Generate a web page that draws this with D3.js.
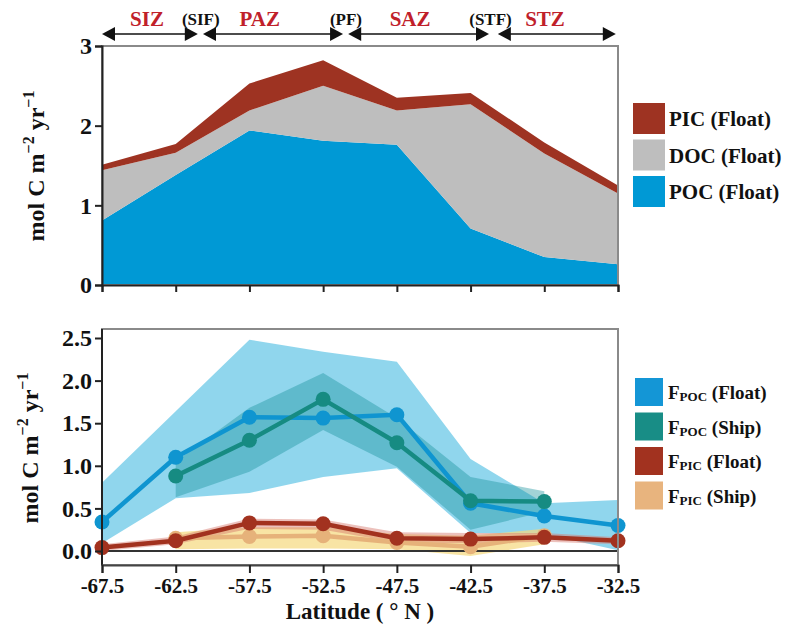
<!DOCTYPE html>
<html>
<head>
<meta charset="utf-8">
<script src="https://cdn.jsdelivr.net/npm/d3@7"></script>
<style>
  body { margin: 0; background: #fff; }
  text { font-family: "Liberation Serif", "Times New Roman", serif; font-weight: bold; }
</style>
</head>
<body>
<div id="chart"></div>
<script>
//1. Data
const lats = [-67.5, -62.5, -57.5, -52.5, -47.5, -42.5, -37.5, -32.5];
const shipLats = [-62.5, -57.5, -52.5, -47.5, -42.5, -37.5];

// top panel (stacked, float based)
const pocStock = [0.81, 1.38, 1.94, 1.81, 1.76, 0.71, 0.35, 0.26];
const docStock = [0.63, 0.28, 0.25, 0.69, 0.43, 1.56, 1.30, 0.89];
const picStock = [0.07, 0.11, 0.34, 0.32, 0.16, 0.14, 0.14, 0.10];

// bottom panel (fluxes with ranges)
const pocFloat   = [0.34, 1.10, 1.57, 1.56, 1.60, 0.56, 0.41, 0.30];
const pocFloatHi = [0.80, 1.64, 2.48, 2.34, 2.22, 1.08, 0.56, 0.60];
const pocFloatLo = [0.09, 0.62, 0.68, 0.87, 0.97, 0.21, 0.20, 0.01];

const pocShip   = [0.88, 1.30, 1.78, 1.27, 0.59, 0.58];
const pocShipHi = [1.05, 1.68, 2.09, 1.56, 0.87, 0.70];
const pocShipLo = [0.63, 0.93, 1.42, 0.99, 0.25, 0.46];

const picFloat   = [0.04, 0.12, 0.33, 0.32, 0.15, 0.14, 0.16, 0.12];
const picFloatHi = [0.08, 0.17, 0.38, 0.37, 0.22, 0.21, 0.21, 0.16];
const picFloatLo = [0.00, 0.08, 0.26, 0.25, 0.10, 0.09, 0.11, 0.08];

const picShip   = [0.15, 0.17, 0.18, 0.10, 0.05, 0.18];
const picShipHi = [0.22, 0.28, 0.28, 0.20, 0.18, 0.26];
const picShipLo = [0.02, 0.03, 0.03, 0.02, -0.06, 0.08];

// zones / fronts along the top
const zoneNames = ["SIZ", "PAZ", "SAZ", "STZ"];
const zoneStart = [-67.5, -60.65, -50.8, -40.65];
const zoneEnd   = [-61.0, -51.15, -41.25, -32.65];
const zoneMid   = [-64.45, -56.8, -46.6, -37.45];
const frontNames = ["(SIF)", "(PF)", "(STF)"];
const frontLat   = [-60.8, -50.95, -41.15];

const topTicks = [0, 1, 2, 3];
const botTicks = [0, 0.5, 1.0, 1.5, 2.0, 2.5];

const topKeys = ["POC (Float)", "DOC (Float)", "PIC (Float)"];
const topColors = ["#0099d5", "#bebebe", "#9e3322"];

//2. SVG and scales
const width = 794, height = 630;
const svg = d3.select("#chart").append("svg")
  .attr("width", width).attr("height", height);

const x = d3.scaleLinear().domain([-67.5, -32.5]).range([102, 618]);
const yTop = d3.scaleLinear().domain([0, 3]).range([285, 46]);
const yBot = d3.scaleLinear().domain([0, 2.5]).range([551, 338]);
const topPanel = { top: 46, bottom: 285 };
const botPanel = { top: 329, bottom: 565 };

//3. Top stacked area
const rows = lats.map((lat, i) => ({ lat, poc: pocStock[i], doc: docStock[i], pic: picStock[i] }));
const stacked = d3.stack().keys(["poc", "doc", "pic"])(rows);
const stackArea = d3.area()
  .x(d => x(d.data.lat))
  .y0(d => yTop(d[0]))
  .y1(d => yTop(d[1]));

svg.selectAll(".stack")
  .data(stacked)
  .enter().append("path")
    .attr("class", "stack")
    .attr("d", stackArea)
    .attr("fill", (d, i) => topColors[i]);

svg.append("rect")
  .attr("x", x(-67.5)).attr("y", topPanel.top)
  .attr("width", x(-32.5) - x(-67.5)).attr("height", topPanel.bottom - topPanel.top)
  .attr("fill", "none").attr("stroke", "#8a8a8a").attr("stroke-width", 2);

const topY = svg.append("g")
  .attr("transform", `translate(${x(-67.5)},0)`)
  .call(d3.axisLeft(yTop).tickValues(topTicks).tickFormat(d3.format("d")).tickSize(7).tickPadding(3));
topY.select(".domain").attr("stroke", "#222").attr("stroke-width", 2);
topY.selectAll("line").attr("stroke", "#222").attr("stroke-width", 2);
topY.selectAll("text").attr("font-size", 24).attr("fill", "#111");

const topX = svg.append("g")
  .attr("transform", `translate(0,${topPanel.bottom})`)
  .call(d3.axisBottom(x).tickValues(lats).tickFormat("").tickSize(7));
topX.select(".domain").attr("stroke", "#222").attr("stroke-width", 2);
topX.selectAll("line").attr("stroke", "#222").attr("stroke-width", 2);

//4. Zone arrows on top
const arrowY = 34;
const head = (xTip, dir) => `M${xTip},${arrowY} L${xTip - dir * 13},${arrowY - 7} L${xTip - dir * 13},${arrowY + 7} Z`;
zoneNames.forEach((name, i) => {
  const x0 = x(zoneStart[i]), x1 = x(zoneEnd[i]);
  svg.append("line")
    .attr("x1", x0 + 6).attr("x2", x1 - 6)
    .attr("y1", arrowY).attr("y2", arrowY)
    .attr("stroke", "#111").attr("stroke-width", 1.6);
  svg.append("path").attr("d", head(x0, -1)).attr("fill", "#111");
  svg.append("path").attr("d", head(x1, 1)).attr("fill", "#111");
  svg.append("text")
    .attr("x", x(zoneMid[i])).attr("y", 26)
    .attr("text-anchor", "middle")
    .attr("font-size", 21)
    .attr("fill", "#c0202a")
    .text(name);
});
frontNames.forEach((name, i) => {
  svg.append("text")
    .attr("x", x(frontLat[i])).attr("y", 25)
    .attr("text-anchor", "middle")
    .attr("font-size", 17)
    .attr("fill", "#111")
    .text(name);
});

//5. Bottom panel bands
const band = (lo, hi, xs) => d3.area()
  .x((d, i) => x(xs[i]))
  .y0((d, i) => yBot(lo[i]))
  .y1((d, i) => yBot(hi[i]));

svg.append("path").attr("d", band(pocFloatLo, pocFloatHi, lats)(lats))
  .attr("fill", "#5cc3e4").attr("opacity", 0.68);
svg.append("path").attr("d", band(pocShipLo, pocShipHi, shipLats)(shipLats))
  .attr("fill", "#17919a").attr("opacity", 0.4);
svg.append("path").attr("d", band(picShipLo, picShipHi, shipLats)(shipLats))
  .attr("fill", "#f5d97e").attr("opacity", 0.7);
svg.append("path").attr("d", band(picFloatLo, picFloatHi, lats)(lats))
  .attr("fill", "#d4756a").attr("opacity", 0.45);

// zero line
svg.append("line")
  .attr("x1", x(-67.5)).attr("x2", x(-32.5))
  .attr("y1", yBot(0)).attr("y2", yBot(0))
  .attr("stroke", "#333").attr("stroke-width", 2);

//6. Lines and points
const series = [
  { xs: shipLats, ys: picShip,  color: "#e6b27a" },
  { xs: lats,     ys: picFloat, color: "#a2321f" },
  { xs: lats,     ys: pocFloat, color: "#0f95d0" },
  { xs: shipLats, ys: pocShip,  color: "#168b82" }
];
const lineGen = d3.line().x(d => x(d[0])).y(d => yBot(d[1]));
series.forEach(s => {
  const pts = s.xs.map((lat, i) => [lat, s.ys[i]]);
  svg.append("path")
    .datum(pts)
    .attr("d", lineGen)
    .attr("fill", "none")
    .attr("stroke", s.color)
    .attr("stroke-width", 4.5)
    .attr("stroke-linejoin", "round");
  svg.selectAll(null)
    .data(pts)
    .enter().append("circle")
      .attr("cx", d => x(d[0]))
      .attr("cy", d => yBot(d[1]))
      .attr("r", 7.5)
      .attr("fill", s.color);
});

//7. Bottom panel frame and axes
svg.append("rect")
  .attr("x", x(-67.5)).attr("y", botPanel.top)
  .attr("width", x(-32.5) - x(-67.5)).attr("height", botPanel.bottom - botPanel.top)
  .attr("fill", "none").attr("stroke", "#8a8a8a").attr("stroke-width", 2);

const botY = svg.append("g")
  .attr("transform", `translate(${x(-67.5)},0)`)
  .call(d3.axisLeft(yBot).tickValues(botTicks).tickFormat(d3.format(".1f")).tickSize(7).tickPadding(3));
botY.select(".domain").remove();
botY.selectAll("line").attr("stroke", "#222").attr("stroke-width", 2);
botY.selectAll("text").attr("font-size", 24).attr("fill", "#111");
svg.append("line")
  .attr("x1", x(-67.5)).attr("x2", x(-67.5))
  .attr("y1", botPanel.top).attr("y2", botPanel.bottom)
  .attr("stroke", "#222").attr("stroke-width", 2);

const botX = svg.append("g")
  .attr("transform", `translate(0,${botPanel.bottom})`)
  .call(d3.axisBottom(x).tickValues(lats).tickFormat(d3.format(".1f")).tickSize(8).tickPadding(5));
botX.select(".domain").attr("stroke", "#444").attr("stroke-width", 2);
botX.selectAll("line").attr("stroke", "#222").attr("stroke-width", 2);
botX.selectAll("text").attr("font-size", 21).attr("fill", "#111")
  .text(d => d3.format(".1f")(d).replace("−", "-"));

svg.append("text")
  .attr("x", x(-50)).attr("y", 619)
  .attr("text-anchor", "middle")
  .attr("font-size", 23)
  .attr("fill", "#111")
  .text("Latitude ( ° N )");

//8. Y axis titles
function unitLabel(cx, cy) {
  const t = svg.append("text")
    .attr("transform", `translate(${cx},${cy}) rotate(-90)`)
    .attr("text-anchor", "middle")
    .attr("font-size", 24)
    .attr("fill", "#111");
  t.append("tspan").text("mol C m");
  t.append("tspan").attr("dy", -10).attr("font-size", 16).text("−2");
  t.append("tspan").attr("dy", 10).text(" yr");
  t.append("tspan").attr("dy", -10).attr("font-size", 16).text("−1");
}
unitLabel(44, 166);
unitLabel(38, 448);

//9. Legends
const topLegend = svg.append("g").attr("transform", "translate(633,103)");
[2, 1, 0].forEach((k, i) => {
  topLegend.append("rect")
    .attr("x", 0).attr("y", i * 36.5)
    .attr("width", 32).attr("height", 31)
    .attr("fill", topColors[k]);
  topLegend.append("text")
    .attr("x", 36).attr("y", i * 36.5 + 23)
    .attr("font-size", 21)
    .attr("fill", "#111")
    .text(topKeys[k]);
});

const botLegendItems = [
  { sub: "POC", tail: " (Float)", color: "#1496d6" },
  { sub: "POC", tail: " (Ship)",  color: "#188d86" },
  { sub: "PIC", tail: " (Float)", color: "#a2321f" },
  { sub: "PIC", tail: " (Ship)",  color: "#e8b47e" }
];
const botLegend = svg.append("g").attr("transform", "translate(635,378)");
botLegendItems.forEach((d, i) => {
  botLegend.append("rect")
    .attr("x", 0).attr("y", i * 34.5)
    .attr("width", 28).attr("height", 28)
    .attr("fill", d.color);
  const t = botLegend.append("text")
    .attr("x", 33).attr("y", i * 34.5 + 21)
    .attr("font-size", 19)
    .attr("fill", "#111");
  t.append("tspan").text("F");
  t.append("tspan").attr("font-size", 13).attr("dy", 2).text(d.sub);
  t.append("tspan").attr("dy", -2).text(d.tail);
});
</script>
</body>
</html>
